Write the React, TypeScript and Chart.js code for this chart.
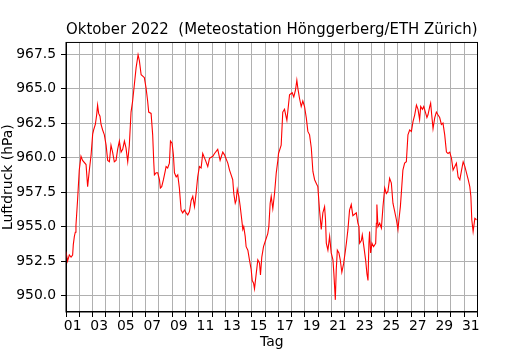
import React, { useEffect, useRef } from "react";
import { Chart, registerables } from "chart.js";

Chart.register(...registerables);

// Days since 1 Oct 2022 00:00 (fractional)
const tage: number[] = [
  0.0, 0.12, 0.25, 0.38, 0.5, 0.55, 0.63, 0.7, 0.75, 0.87, 1.0, 1.13, 1.25, 1.51, 1.63, 1.76, 1.89,
  2.01, 2.08, 2.21, 2.31, 2.38, 2.46, 2.56, 2.64, 2.76, 2.89, 3.02, 3.14, 3.27, 3.39, 3.51, 3.64,
  3.77, 3.89, 4.02, 4.15, 4.27, 4.4, 4.52, 4.65, 4.77, 4.9, 5.02, 5.15, 5.28, 5.43, 5.53, 5.66,
  5.78, 5.9, 6.03, 6.15, 6.23, 6.41, 6.53, 6.61, 6.66, 6.79, 6.91, 7.04, 7.11, 7.21, 7.34, 7.47,
  7.54, 7.66, 7.79, 7.87, 7.99, 8.09, 8.17, 8.3, 8.42, 8.54, 8.67, 8.79, 8.92, 9.05, 9.17, 9.3,
  9.43, 9.55, 9.68, 9.8, 9.92, 10.05, 10.18, 10.3, 10.51, 10.68, 10.81, 11.06, 11.19, 11.43,
  11.61, 11.81, 11.94, 12.19, 12.32, 12.44, 12.56, 12.64, 12.75, 12.82, 12.9, 13.02, 13.12,
  13.24, 13.32, 13.39, 13.5, 13.57, 13.7, 13.82, 13.95, 14.03, 14.13, 14.2, 14.33, 14.45, 14.58,
  14.65, 14.75, 14.88, 15.03, 15.2, 15.28, 15.38, 15.46, 15.58, 15.71, 15.84, 15.96, 16.01,
  16.21, 16.33, 16.46, 16.64, 16.84, 17.04, 17.16, 17.29, 17.39, 17.47, 17.59, 17.72, 17.84,
  17.97, 18.1, 18.22, 18.35, 18.48, 18.6, 18.73, 18.85, 18.97, 19.1, 19.23, 19.35, 19.48, 19.55,
  19.61, 19.73, 19.86, 19.98, 20.11, 20.18, 20.29, 20.36, 20.44, 20.56, 20.66, 20.78, 20.91,
  21.04, 21.12, 21.24, 21.36, 21.49, 21.61, 21.74, 21.87, 21.99, 22.07, 22.12, 22.25, 22.32,
  22.44, 22.57, 22.67, 22.75, 22.82, 22.87, 22.95, 23.05, 23.17, 23.33, 23.38, 23.42, 23.5,
  23.63, 23.76, 23.88, 24.01, 24.13, 24.25, 24.38, 24.51, 24.63, 24.76, 24.89, 25.01, 25.08,
  25.19, 25.26, 25.38, 25.51, 25.64, 25.76, 25.89, 26.02, 26.14, 26.27, 26.4, 26.52, 26.64,
  26.72, 26.85, 26.95, 27.1, 27.19, 27.27, 27.4, 27.47, 27.55, 27.65, 27.78, 27.9, 28.02, 28.15,
  28.28, 28.4, 28.53, 28.66, 28.78, 28.91, 29.04, 29.16, 29.29, 29.41, 29.54, 29.67, 29.8, 29.92,
  30.05, 30.17, 30.3, 30.42, 30.5, 30.57, 30.67, 30.8, 30.93,
];

// Luftdruck in hPa
const luftdruck: number[] = [
  953.2, 952.5, 952.95, 952.8, 952.95, 953.7, 954.3, 954.6, 955.1, 956.9, 959.1, 960.1, 959.8,
  959.5, 957.9, 959.1, 960.2, 961.7, 962.0, 962.4, 963.1, 963.8, 963.2, 963.0, 962.4, 962.0,
  961.65, 960.9, 959.8, 959.7, 960.9, 960.4, 959.7, 959.8, 960.6, 961.2, 960.4, 960.6, 961.2,
  960.7, 959.7, 960.9, 963.3, 964.1, 965.3, 966.5, 967.45, 967.0, 966.0, 965.9, 965.8, 965.05,
  964.1, 963.3, 963.2, 961.65, 959.7, 958.75, 958.9, 958.9, 958.4, 957.8, 957.9, 958.4, 959.0,
  959.35, 959.25, 959.6, 961.2, 961.05, 960.2, 958.9, 958.6, 958.75, 957.8, 956.2, 956.0, 956.2,
  956.0, 955.85, 956.1, 956.9, 957.2, 956.45, 957.4, 958.6, 959.35, 959.25, 960.3, 959.8,
  959.35, 959.95, 960.1, 960.3, 960.6, 959.8, 960.4, 960.2, 959.6, 959.1, 958.75, 958.4, 957.4,
  956.7, 956.9, 957.7, 957.2, 956.5, 955.5, 954.8, 955.0, 954.3, 953.55, 953.3, 952.6, 951.9,
  951.1, 950.9, 950.5, 951.6, 952.6, 952.35, 951.5, 952.8, 953.55, 954.0, 954.5, 955.0, 956.7,
  957.2, 956.3, 957.4, 958.9, 959.8, 960.3, 960.9, 963.3, 963.5, 962.7, 964.55, 964.7, 964.4,
  964.9, 965.6, 965.0, 964.3, 963.7, 964.1, 963.7, 962.9, 961.9, 961.65, 960.7, 959.0, 958.4,
  958.15, 957.9, 956.2, 954.8, 956.0, 956.45, 955.5, 953.8, 953.3, 954.3, 953.1, 952.6, 951.6,
  949.7, 951.9, 953.3, 953.1, 952.6, 951.7, 952.3, 953.2, 953.8, 954.8, 956.2, 956.6, 955.8,
  955.9, 956.0, 955.25, 955.0, 953.8, 954.0, 954.4, 953.55, 952.6, 951.6, 951.1, 953.8, 954.65,
  953.1, 953.8, 953.55, 953.8, 955.25, 956.6, 955.0, 955.25, 954.9, 956.45, 957.8, 957.4,
  957.55, 958.5, 958.15, 956.7, 956.1, 955.5, 954.8, 955.5, 956.45, 957.4, 959.1, 959.6, 959.7,
  961.65, 962.0, 961.9, 962.6, 963.1, 963.8, 963.5, 962.75, 963.7, 963.5, 963.7, 963.2, 962.9,
  963.1, 963.7, 963.95, 963.1, 962.1, 962.9, 963.3, 963.1, 962.9, 962.4, 962.5, 961.65, 960.4,
  960.3, 960.4, 959.95, 959.1, 959.35, 959.6, 958.6, 958.4, 959.1, 959.7, 959.35, 958.9, 958.4,
  957.9, 957.2, 955.5, 954.65, 955.6, 955.5,
];

const yTicks: number[] = [950.0, 952.5, 955.0, 957.5, 960.0, 962.5, 965.0, 967.5];
const dayBoundaries: number[] = Array.from({ length: 32 }, (_, i) => i);
const xLabelPositions: number[] = [0.5, 2.5, 4.5, 6.5, 8.5, 10.5, 12.5, 14.5, 16.5, 18.5, 20.5, 22.5, 24.5, 26.5, 28.5, 30.5];
const xTickLabels: string[] = ["01", "03", "05", "07", "09", "11", "13", "15", "17", "19", "21", "23", "25", "27", "29", "31"];

const FONT = "'DejaVu Sans', sans-serif";

const framePlugin = {
  id: "frame",
  afterDraw(chart: any) {
    const { ctx, chartArea } = chart;
    const { left, top, right, bottom } = chartArea;
    ctx.save();
    ctx.strokeStyle = "#000";
    ctx.lineWidth = 1;
    ctx.strokeRect(left, top, right - left, bottom - top);
    ctx.restore();
  },
};

export default function App() {
  const ref = useRef<HTMLCanvasElement | null>(null);

  useEffect(() => {
    if (!ref.current) return;
    const points = tage.map((t, i) => ({ x: t, y: luftdruck[i] }));
    const chart = new Chart(ref.current, {
      type: "line",
      data: {
        datasets: [
          {
            data: points,
            borderColor: "#ff0000",
            borderWidth: 1.1,
            pointRadius: 0,
            tension: 0,
            fill: false,
          },
        ],
      },
      options: {
        animation: false,
        responsive: false,
        devicePixelRatio: 1,
        parsing: false,
        layout: { padding: { left: 0, right: 52.5, top: 0, bottom: 0 } },
        plugins: {
          legend: { display: false },
          tooltip: { enabled: false },
          title: {
            display: true,
            fullSize: false,
            text: "Oktober 2022  (Meteostation Hönggerberg/ETH Zürich)",
            color: "#000",
            font: { family: FONT, size: 15.3, weight: "normal" as any, lineHeight: 1.2 },
            padding: { top: 20.5, bottom: 3.6 },
          },
        },
        scales: {
          x: {
            type: "linear",
            min: 0,
            max: 31,
            afterBuildTicks: (axis: any) => {
              const vals = [...dayBoundaries, ...xLabelPositions].sort((a, b) => a - b);
              axis.ticks = vals.map((v) => ({ value: v }));
            },
            afterFit: (s: any) => {
              s.height = 38;
            },
            ticks: {
              autoSkip: false,
              maxRotation: 0,
              minRotation: 0,
              padding: 1,
              color: "#000",
              font: { family: FONT, size: 13.9 },
              callback: (value: any) => {
                const idx = xLabelPositions.findIndex((p) => Math.abs(p - Number(value)) < 1e-6);
                return idx >= 0 ? xTickLabels[idx] : "";
              },
            },
            grid: {
              color: (c: any) => (c.tick && Number.isInteger(c.tick.value) ? "#b0b0b0" : "rgba(0,0,0,0)"),
              tickColor: (c: any) => (c.tick && Number.isInteger(c.tick.value) ? "#000" : "rgba(0,0,0,0)"),
              lineWidth: 1,
              tickLength: 5,
              drawTicks: true,
            },
            border: { display: true, color: "#000", width: 1 },
            title: {
              display: true,
              text: "Tag",
              color: "#000",
              font: { family: FONT, size: 13.9 },
              padding: { top: 0, bottom: -1 },
            },
          },
          y: {
            type: "linear",
            min: 948.82,
            max: 968.34,
            afterBuildTicks: (axis: any) => {
              axis.ticks = yTicks.map((v) => ({ value: v }));
            },
            afterFit: (s: any) => {
              s.width = 66;
            },
            ticks: {
              padding: 5,
              color: "#000",
              font: { family: FONT, size: 13.9 },
              callback: (value: any) => Number(value).toFixed(1),
            },
            grid: {
              color: "#b0b0b0",
              tickColor: "#000",
              lineWidth: 1,
              tickLength: 5,
            },
            border: { display: true, color: "#000", width: 1 },
            title: {
              display: true,
              text: "Luftdruck (hPa)",
              color: "#000",
              font: { family: FONT, size: 13.9 },
              padding: { top: 0, bottom: 0 },
            },
          },
        },
      },
      plugins: [framePlugin],
    });
    return () => chart.destroy();
  }, []);

  return (
    <div style={{ position: "absolute", left: 0, top: 0, width: 530, height: 350, background: "#fff" }}>
      <canvas ref={ref} width={530} height={350} style={{ width: 530, height: 350 }} />
    </div>
  );
}
